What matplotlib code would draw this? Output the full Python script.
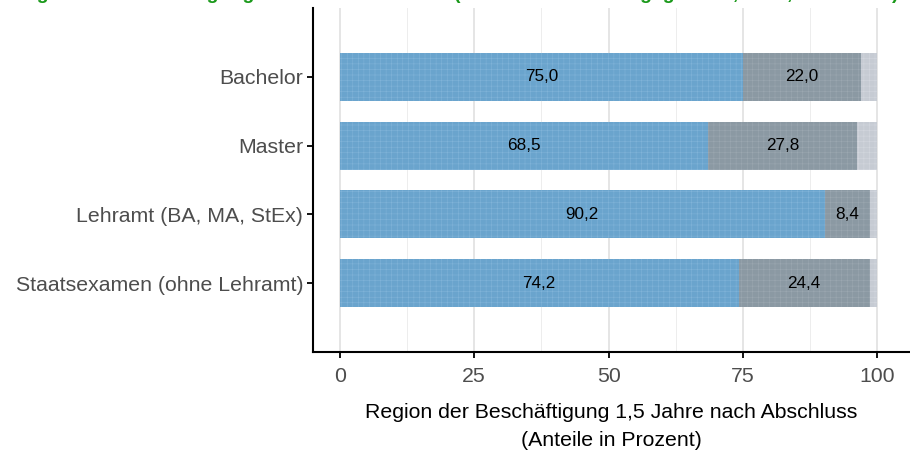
import matplotlib
matplotlib.use("Agg")
import matplotlib.pyplot as plt
import numpy as np

plt.rcParams['font.family'] = ['Liberation Sans', 'DejaVu Sans']
plt.rcParams['hatch.linewidth'] = 0.4

categories = ["Bachelor", "Master", "Lehramt (BA, MA, StEx)", "Staatsexamen (ohne Lehramt)"]
seg1 = [75.0, 68.5, 90.2, 74.2]
seg2 = [22.0, 27.8, 8.4, 24.4]
seg3 = [3.0, 3.7, 1.4, 1.4]
xticks = [0, 25, 50, 75, 100]

faces = ["#6aa4cd", "#8b99a3", "#c6cbd3"]
hatchc = ["#80b3d8", "#9ba7b0", "#d3d7de"]

fig = plt.figure(figsize=(9.1, 4.57), dpi=100)
ax = fig.add_axes([313/910, 105/457, 1 - 313/910, (352-8)/457])

y = np.arange(len(categories))
left = np.zeros(len(categories))
for i, seg in enumerate([seg1, seg2, seg3]):
    seg = np.array(seg)
    ax.barh(y, seg, left=left, height=0.7, color=faces[i], edgecolor=hatchc[i],
            linewidth=0, hatch='+++', zorder=2)
    if i < 2:
        for yy, l, s in zip(y, left, seg):
            ax.text(l + s/2, yy, f"{s:.1f}".replace('.', ','), ha='center', va='center',
                    fontsize=12.3, color='black', zorder=3)
    left = left + seg

ax.set_xlim(-5, 106.1)
ax.set_ylim(4, -1)
ax.set_yticks(y)
ax.set_yticklabels(categories, fontsize=15.3, color='#4d4d4d')
ax.set_xticks(xticks)
ax.set_xticklabels([str(t) for t in xticks], fontsize=15.3, color='#4d4d4d')
ax.set_xticks([12.5, 37.5, 62.5, 87.5], minor=True)
ax.tick_params(axis='x', which='minor', length=0)
ax.tick_params(axis='both', which='major', length=4, width=1.3, color='black', pad=3)
ax.tick_params(axis='x', which='major', pad=7)
ax.grid(axis='x', which='major', color='#e3e3e3', linewidth=1.3, zorder=0)
ax.grid(axis='x', which='minor', color='#ededed', linewidth=0.7, zorder=0)
ax.set_axisbelow(True)
for s in ['top', 'right']:
    ax.spines[s].set_visible(False)
for s in ['left', 'bottom']:
    ax.spines[s].set_linewidth(1.5)
    ax.spines[s].set_color('black')

ax.set_xlabel("Region der Beschäftigung 1,5 Jahre nach Abschluss\n(Anteile in Prozent)",
              fontsize=15.3, color='black', labelpad=12, linespacing=1.6)

fig.text(0.5, 1.0 + 1/457, "Region der Beschäftigung der Absolvent*innen (nach Abschlussart gegliedert, 2017, in Prozent)",
         ha='center', va='baseline', fontsize=14, fontweight='bold', color='#1a991a')

fig.savefig("out.png", dpi=100)
